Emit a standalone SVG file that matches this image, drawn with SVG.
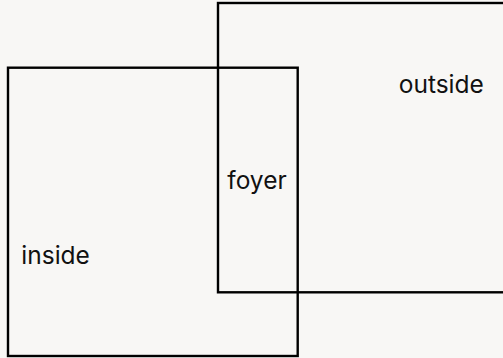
<svg xmlns="http://www.w3.org/2000/svg" width="503" height="358" viewBox="0 0 503 358">
<style>
.room{fill:none;stroke:#000;stroke-width:2.4}
.lbl{font-family:Inter,"Liberation Sans",sans-serif;font-size:24.5px;fill:#111}
</style>
<rect width="503" height="358" fill="#f8f7f5"/>
<g id="outside"><rect class="room" x="218" y="3" width="300" height="289.3"/><text class="lbl" x="441.3" y="93.2" text-anchor="middle">outside</text></g>
<g id="inside"><rect class="room" x="8" y="67.7" width="289.7" height="288.3"/><text class="lbl" x="21.3" y="264">inside</text></g>
<g id="foyer"><text class="lbl" x="257" y="189.3" text-anchor="middle">foyer</text></g>
<g id="connectors"/>
</svg>
